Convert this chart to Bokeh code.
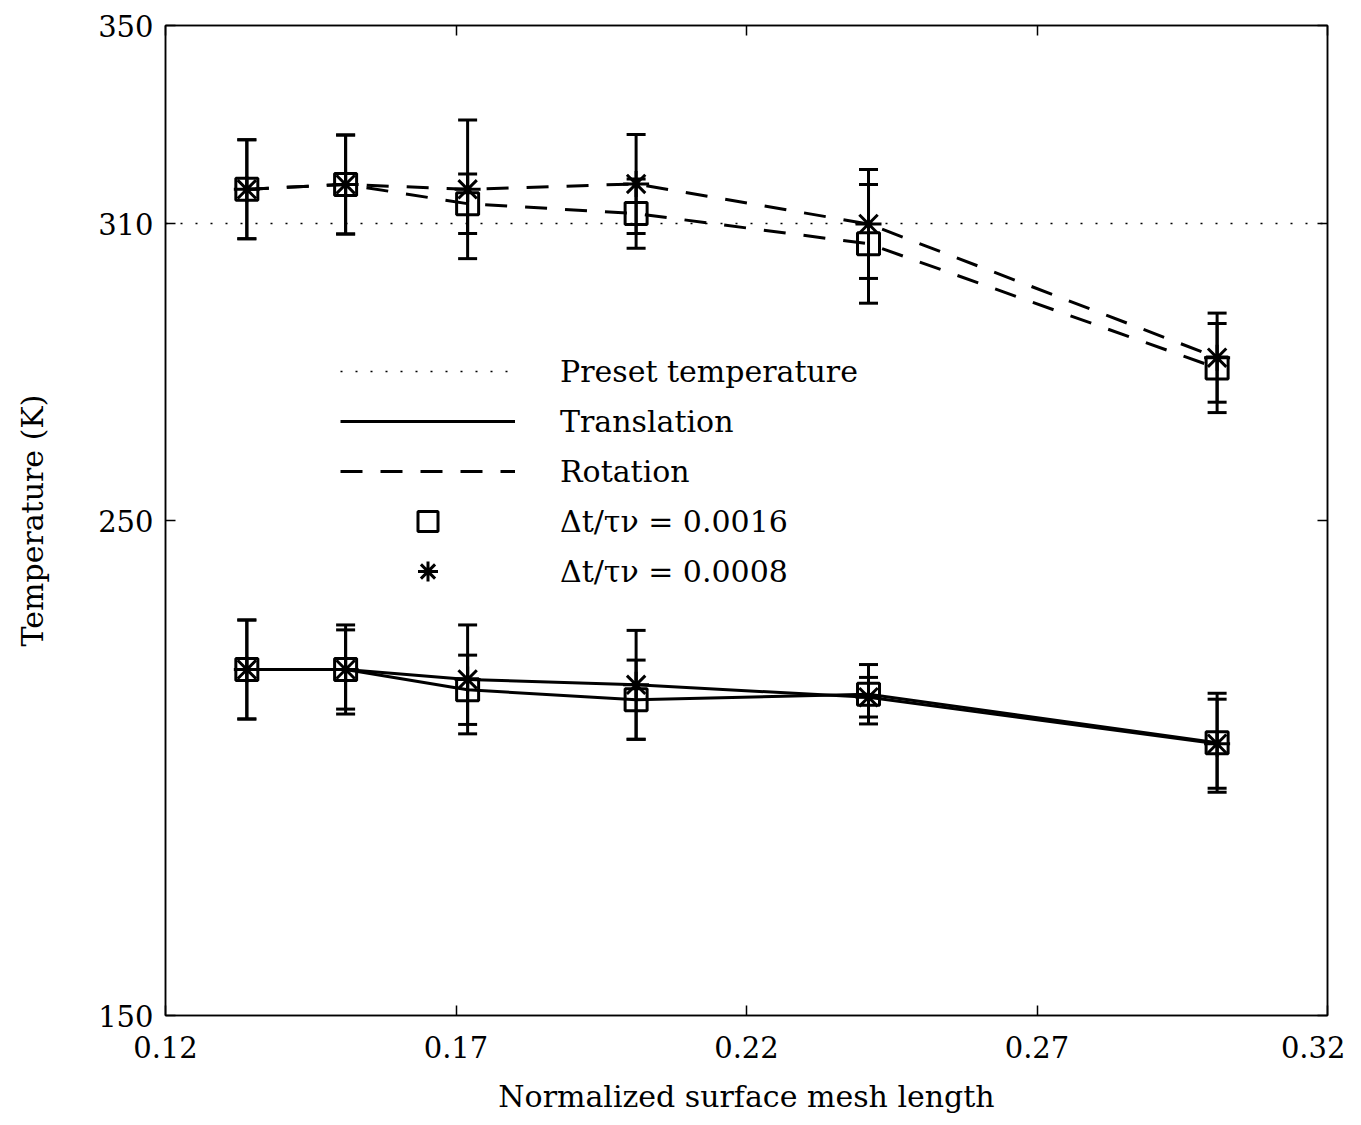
from bokeh.plotting import figure
from bokeh.models import (Range1d, FixedTicker, LinearAxis, Whisker, TeeHead,
                          ColumnDataSource, Legend, LegendItem)
from bokeh.embed import file_html
from bokeh.resources import INLINE

# ---- data ----
mesh_length = [0.134, 0.151, 0.172, 0.201, 0.241, 0.301]

rot_dt16 = [316.9, 317.9, 314.0, 312.0, 305.9, 280.8]
rot_dt16_err = [10, 10, 6, 7, 12, 9]
rot_dt08 = [316.9, 317.9, 316.9, 318.0, 309.9, 282.9]
rot_dt08_err = [10, 10, 14, 10, 11, 9]

tra_dt16 = [219.9, 219.9, 215.8, 213.8, 214.9, 205.1]
tra_dt16_err = [10, 9, 7, 8, 6, 10]
tra_dt08 = [219.9, 219.9, 217.9, 216.8, 214.3, 204.9]
tra_dt08_err = [10, 8, 11, 11, 4, 9]

preset_temperature = 310

x_ticks = [0.12, 0.17, 0.22, 0.27, 0.32]
x_tick_labels = ["0.12", "0.17", "0.22", "0.27", "0.32"]
y_ticks = [150, 250, 310, 350]
y_tick_labels = ["150", "250", "310", "350"]

legend_labels = ["Preset temperature", "Translation", "Rotation",
                 "\u0394t/\u03c4\u03bd = 0.0016", "\u0394t/\u03c4\u03bd = 0.0008"]

FONT = "DejaVu Serif"

p = figure(frame_width=1162, frame_height=990, output_backend="svg", toolbar_location=None,
           x_range=Range1d(x_ticks[0], x_ticks[-1]),
           y_range=Range1d(y_ticks[0], y_ticks[-1]),
           min_border_left=165, min_border_right=18, min_border_top=25,
           min_border_bottom=94)
p.grid.visible = False
p.outline_line_color = "black"
p.outline_line_width = 1.5
p.background_fill_color = "white"
p.border_fill_color = "white"

xa = p.xaxis[0]
ya = p.yaxis[0]
xa.ticker = FixedTicker(ticks=x_ticks)
ya.ticker = FixedTicker(ticks=y_ticks)
xa.major_label_overrides = {t: l for t, l in zip(x_ticks, x_tick_labels)}
ya.major_label_overrides = {t: l for t, l in zip(y_ticks, y_tick_labels)}
xa.axis_label = "Normalized surface mesh length"
ya.axis_label = "Temperature (K)"
for ax in (xa, ya):
    ax.major_tick_in = 10
    ax.major_tick_out = 0
    ax.minor_tick_line_color = None
    ax.axis_line_width = 1.5
    ax.major_tick_line_width = 1.5
    ax.major_label_text_font = FONT
    ax.major_label_text_font_size = "29px"
    ax.major_label_text_color = "black"
    ax.axis_label_text_font = FONT
    ax.axis_label_text_font_size = "30px"
    ax.axis_label_text_font_style = "normal"
    ax.axis_label_text_color = "black"
xa.major_label_standoff = 20
ya.major_label_standoff = 12
xa.axis_label_standoff = 18
ya.axis_label_standoff = 45

# mirrored ticks on top and right
top = LinearAxis(ticker=FixedTicker(ticks=x_ticks),
                 major_label_overrides={t: "" for t in x_ticks})
right = LinearAxis(ticker=FixedTicker(ticks=y_ticks),
                   major_label_overrides={t: "" for t in y_ticks})
for ax in (top, right):
    ax.major_tick_in = 10
    ax.major_tick_out = 0
    ax.minor_tick_line_color = None
    ax.axis_line_width = 1.5
    ax.major_tick_line_width = 1.5
    ax.major_label_standoff = 0
p.add_layout(top, "above")
p.add_layout(right, "right")

# preset temperature (dotted)
r_preset = p.line([x_ticks[0], x_ticks[-1]], [preset_temperature, preset_temperature],
                  line_color="black", line_width=1.5, line_dash="2 13")

LW = 3
DASH = "22 18"

r_tra16 = p.line(mesh_length, tra_dt16, line_color="black", line_width=LW)
r_tra08 = p.line(mesh_length, tra_dt08, line_color="black", line_width=LW)
r_rot16 = p.line(mesh_length, rot_dt16, line_color="black", line_width=LW, line_dash=DASH)
r_rot08 = p.line(mesh_length, rot_dt08, line_color="black", line_width=LW, line_dash=DASH)

# error bars
for vals, errs in ((tra_dt16, tra_dt16_err), (tra_dt08, tra_dt08_err),
                   (rot_dt16, rot_dt16_err), (rot_dt08, rot_dt08_err)):
    src = ColumnDataSource(dict(x=mesh_length,
                                upper=[v + e for v, e in zip(vals, errs)],
                                lower=[v - e for v, e in zip(vals, errs)]))
    w = Whisker(base="x", upper="upper", lower="lower", source=src,
                dimension="height", line_color="black", line_width=LW,
                upper_head=TeeHead(size=19, line_width=LW, line_color="black"),
                lower_head=TeeHead(size=19, line_width=LW, line_color="black"))
    w.level = "glyph"
    p.add_layout(w)

# markers
r_sq = p.scatter(mesh_length, tra_dt16, marker="square", size=22,
                 fill_color=None, line_color="black", line_width=LW)
p.scatter(mesh_length, rot_dt16, marker="square", size=22,
          fill_color=None, line_color="black", line_width=LW)
r_st = p.scatter(mesh_length, tra_dt08, marker="asterisk", size=26,
                 line_color="black", line_width=LW)
p.scatter(mesh_length, rot_dt08, marker="asterisk", size=26,
          line_color="black", line_width=LW)

legend = Legend(
    items=[LegendItem(label=legend_labels[0], renderers=[r_preset]),
           LegendItem(label=legend_labels[1], renderers=[r_tra16]),
           LegendItem(label=legend_labels[2], renderers=[r_rot16]),
           LegendItem(label=legend_labels[3], renderers=[r_sq]),
           LegendItem(label=legend_labels[4], renderers=[r_st])],
    location=(175, 419), orientation="vertical",
    glyph_width=175, glyph_height=50, label_height=50, spacing=0,
    label_standoff=45, padding=0, margin=0,
    border_line_color=None, background_fill_alpha=0,
    label_text_font=FONT, label_text_font_size="30px", label_text_color="black")
p.add_layout(legend)

open("out.html", "w").write(file_html(p, INLINE))
